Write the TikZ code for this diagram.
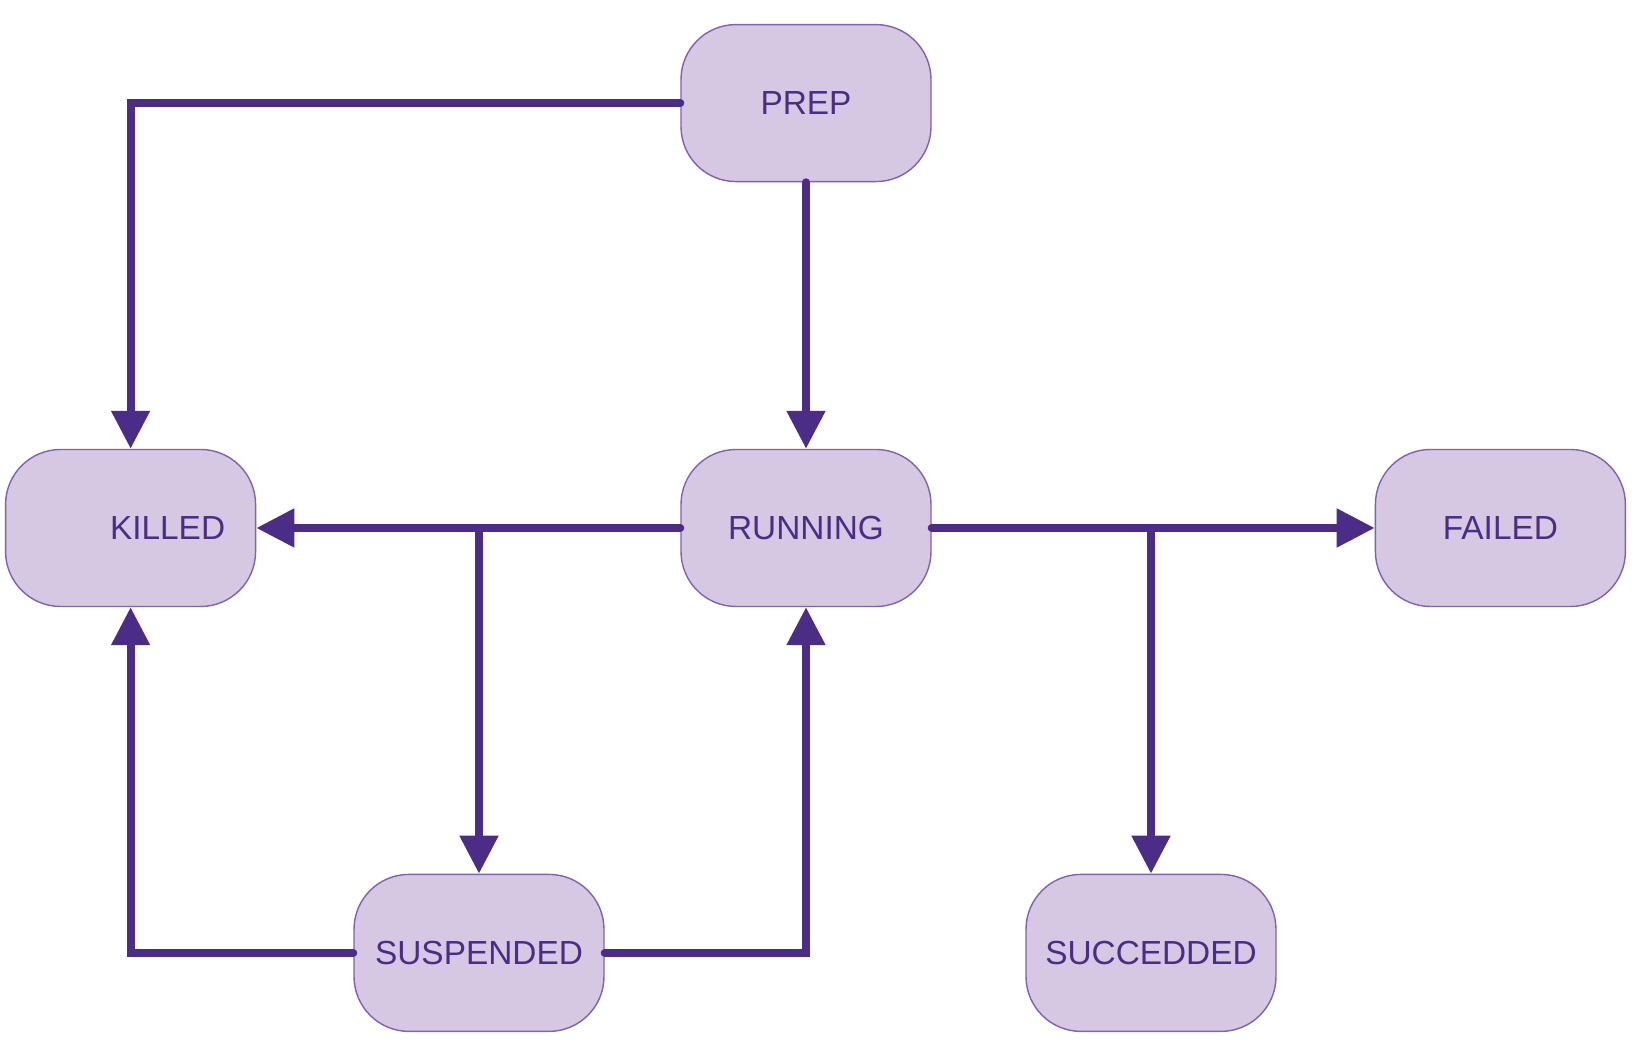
\documentclass[tikz,border=0pt]{standalone}
\usepackage{fontspec}
\setmainfont{Liberation Sans}
\usetikzlibrary{positioning,arrows.meta}
\definecolor{statefill}{HTML}{D6C8E3}
\definecolor{stateline}{HTML}{7E63B0}
\definecolor{flowline}{HTML}{4B2C86}
\begin{document}
\begin{tikzpicture}
		[statenode/.style={rectangle, rounded corners=1.1cm, draw=stateline, fill=statefill, line width=0.8pt, minimum width=5cm, minimum height=3.14cm, inner sep=0pt, text=flowline, font=\fontsize{19}{23}\selectfont},
		flow/.style={flowline, line width=0.16cm, line cap=round, -{Triangle[length=0.76cm,width=0.74cm]}},
		]
		\useasboundingbox (0,0) rectangle (32.64,20.96);
		
		%Nodes
		\node[statenode](running) at (16.12,10.40) {RUNNING};
		\node[statenode](prep)[above=5.33cm of running] {PREP};
		\node[statenode](killed)[left=8.48cm of running] {\hspace*{1.48cm}KILLED};
		\node[statenode](failed)[right=8.86cm of running] {FAILED};
		\node[statenode](suspended)[below=5.33cm of running, xshift=-6.54cm] {SUSPENDED};
		\node[statenode](succedded)[below=5.33cm of running, xshift=6.90cm] {SUCCEDDED};
		\coordinate (leftsplit) at (running.west -| suspended.north);
		\coordinate (rightsplit) at (running.east -| succedded.north);
		%Lines
		\draw[flow](prep.west) -| (killed.north);
		\draw[flow](prep.south) -- (running.north);
		\draw[flow](running.west) -- (killed.east);
		\draw[flow](leftsplit) -- (suspended.north);
		\draw[flow](running.east) -- (failed.west);
		\draw[flow](rightsplit) -- (succedded.north);
		\draw[flow](suspended.west) -| (killed.south);
		\draw[flow](suspended.east) -| (running.south);
	\end{tikzpicture}
\end{document}
